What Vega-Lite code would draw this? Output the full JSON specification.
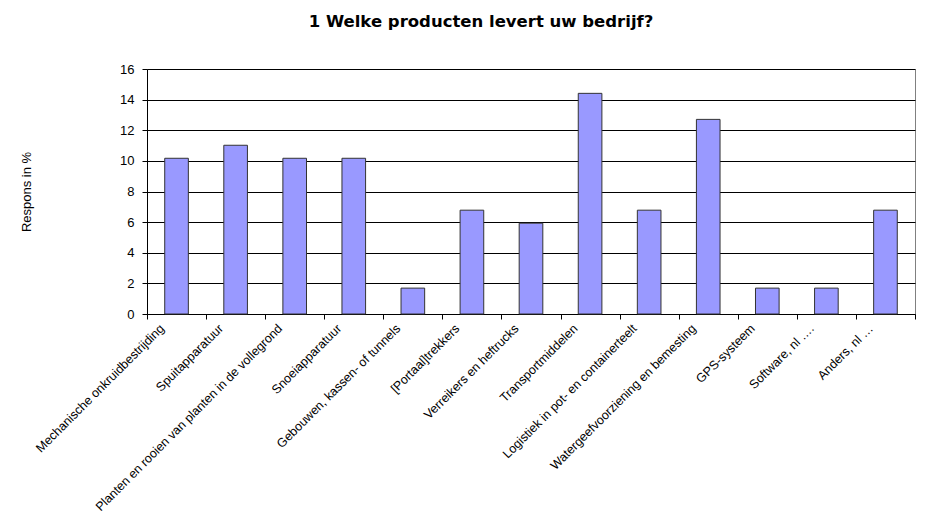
{
  "$schema": "https://vega.github.io/schema/vega-lite/v6.json",
  "autosize": {"type": "none"},
  "width": 768,
  "height": 245,
  "padding": {"left": 147, "top": 69, "right": 30, "bottom": 206},
  "background": "white",
  "title": {
    "text": "1 Welke producten levert uw bedrijf?",
    "font": "DejaVu Sans",
    "fontSize": 16.5,
    "fontWeight": "bold",
    "color": "black",
    "anchor": "middle",
    "frame": "group",
    "baseline": "alphabetic",
    "offset": 20,
    "dx": -50
  },
  "data": {
    "values": [
      {"product": "Mechanische onkruidbestrijding", "respons": 10.17},
      {"product": "Spuitapparatuur", "respons": 11.02},
      {"product": "Planten en rooien van planten in de vollegrond", "respons": 10.17},
      {"product": "Snoeiapparatuur", "respons": 10.17},
      {"product": "Gebouwen, kassen- of tunnels", "respons": 1.69},
      {"product": "[Portaal]trekkers", "respons": 6.78},
      {"product": "Verreikers en heftrucks", "respons": 5.93},
      {"product": "Transportmiddelen", "respons": 14.41},
      {"product": "Logistiek in pot- en containerteelt", "respons": 6.78},
      {"product": "Watergeefvoorziening en bemesting", "respons": 12.71},
      {"product": "GPS-systeem", "respons": 1.69},
      {"product": "Software, nl ….", "respons": 1.69},
      {"product": "Anders, nl …", "respons": 6.78}
    ]
  },
  "mark": {"type": "bar", "fill": "#9999FF", "stroke": "#333333", "strokeWidth": 1, "width": {"band": 0.4}},
  "encoding": {
    "x": {
      "field": "product",
      "type": "nominal",
      "sort": null,
      "scale": {"paddingInner": 0, "paddingOuter": 0},
      "axis": {
        "title": null,
        "labelAngle": -45,
        "labelAlign": "right",
        "labelBaseline": "middle",
        "labelOffset": -15,
        "labelPadding": 7,
        "labelFont": "Liberation Sans",
        "labelFontSize": 12.5,
        "labelColor": "black",
        "labelLimit": 300,
        "tickBand": "extent",
        "tickSize": 5,
        "tickColor": "black",
        "domainColor": "black",
        "grid": false
      }
    },
    "y": {
      "field": "respons",
      "type": "quantitative",
      "scale": {"domain": [0, 16], "nice": false},
      "axis": {
        "title": "Respons in %",
        "titleFont": "Liberation Sans",
        "titleFontSize": 13,
        "titleFontWeight": "normal",
        "titleColor": "black",
        "titlePadding": 86,
        "values": [0, 2, 4, 6, 8, 10, 12, 14, 16],
        "labelFont": "Liberation Sans",
        "labelFontSize": 13,
        "labelColor": "black",
        "labelPadding": 8,
        "tickSize": 5,
        "tickColor": "black",
        "domainColor": "black",
        "gridColor": "black",
        "gridOpacity": 1,
        "gridWidth": 1
      }
    }
  },
  "config": {
    "view": {"stroke": "#808080", "strokeWidth": 1}
  }
}
